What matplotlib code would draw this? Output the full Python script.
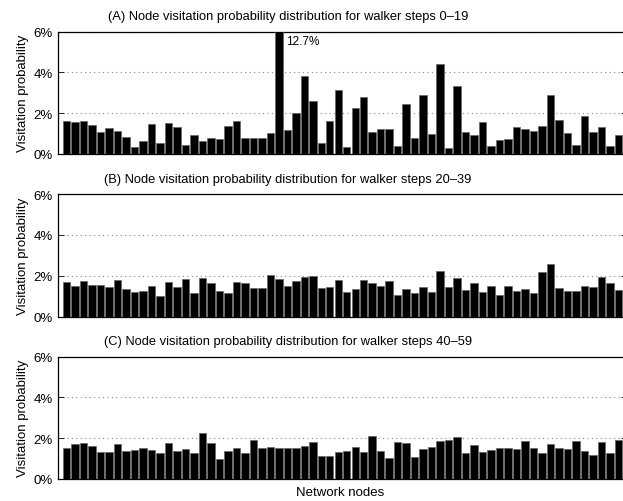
import matplotlib
matplotlib.use("Agg")
import matplotlib.pyplot as plt
import numpy as np
from matplotlib.ticker import FuncFormatter

plt.rcParams['font.family'] = ['Liberation Sans', 'DejaVu Sans']

titles = [
    "(A) Node visitation probability distribution for walker steps 0\u201319",
    "(B) Node visitation probability distribution for walker steps 20\u201339",
    "(C) Node visitation probability distribution for walker steps 40\u201359",
]

# visitation probability in percent, nodes 1..66
steps_0_19 = [1.64, 1.57, 1.62, 1.41, 1.07, 1.26, 1.13, 0.84, 0.34, 0.62,
              1.48, 0.52, 1.51, 1.31, 0.44, 0.93, 0.62, 0.77, 0.74, 1.39,
              1.64, 0.77, 0.77, 0.77, 1.03, 12.7, 1.18, 2.00, 3.82, 2.61,
              0.56, 1.62, 3.13, 0.33, 2.25, 2.79, 1.10, 1.21, 1.21, 0.41,
              2.44, 0.79, 2.89, 1.00, 4.43, 0.30, 3.34, 1.08, 0.92, 1.57,
              0.38, 0.69, 0.74, 1.33, 1.21, 1.13, 1.39, 2.89, 1.66, 1.03,
              0.46, 1.87, 1.08, 1.34, 0.39, 0.92]
steps_20_39 = [1.67, 1.50, 1.74, 1.54, 1.56, 1.46, 1.79, 1.35, 1.20, 1.25,
               1.51, 1.01, 1.71, 1.45, 1.84, 1.15, 1.89, 1.64, 1.25, 1.15,
               1.67, 1.63, 1.38, 1.38, 2.02, 1.84, 1.50, 1.74, 1.93, 1.98,
               1.40, 1.46, 1.80, 1.20, 1.37, 1.77, 1.63, 1.50, 1.74, 1.06,
               1.37, 1.17, 1.45, 1.20, 2.21, 1.46, 1.89, 1.30, 1.63, 1.20,
               1.50, 1.06, 1.50, 1.25, 1.35, 1.17, 2.18, 2.57, 1.40, 1.27,
               1.27, 1.51, 1.45, 1.95, 1.63, 1.30]
steps_40_59 = [1.54, 1.71, 1.76, 1.64, 1.33, 1.30, 1.69, 1.35, 1.41, 1.53,
               1.43, 1.25, 1.76, 1.35, 1.48, 1.27, 2.24, 1.76, 0.96, 1.38,
               1.53, 1.25, 1.93, 1.53, 1.58, 1.54, 1.50, 1.50, 1.63, 1.79,
               1.14, 1.14, 1.33, 1.38, 1.59, 1.32, 2.13, 1.35, 1.01, 1.79,
               1.76, 1.09, 1.45, 1.58, 1.87, 1.92, 2.08, 1.25, 1.67, 1.32,
               1.43, 1.51, 1.50, 1.45, 1.85, 1.50, 1.27, 1.71, 1.53, 1.45,
               1.84, 1.35, 1.17, 1.80, 1.27, 1.90]
series = [steps_0_19, steps_20_39, steps_40_59]
yticks = [0, 2, 4, 6]

W, H = 623, 502
fig = plt.figure(figsize=(W / 100, H / 100), dpi=100)

tops = [32.5, 195.0, 357.5]
ax_h = 122.5
left = 58
ax_w = 569

for i, (vals, title) in enumerate(zip(series, titles)):
    ax = fig.add_axes([left / W, 1 - (tops[i] + ax_h) / H, ax_w / W, ax_h / H])
    x = np.arange(1, len(vals) + 1)
    ax.bar(x, vals, width=0.88, color='black', edgecolor='#666666', linewidth=0.5, zorder=3)
    ax.set_xlim(0, len(vals) + 1)
    ax.set_ylim(0, 6)
    ax.set_yticks(yticks)
    ax.yaxis.set_major_formatter(FuncFormatter(lambda v, p: f"{v:.0f}%"))
    ax.set_xticks([])
    ax.tick_params(axis='y', direction='in', length=4, width=0.6, labelsize=9.5,
                   right=True, pad=4)
    ax.grid(axis='y', linestyle=(0, (1, 3)), color='#888888', linewidth=0.8, zorder=0)
    for s in ax.spines.values():
        s.set_linewidth(0.9)
    ax.set_ylabel("Visitation probability", fontsize=9.5, labelpad=3)
    ax.set_title(title, fontsize=9.3, x=(288 - left) / ax_w, pad=9)
    if i == 0:
        idx = int(np.argmax(vals))
        ax.text(x[idx] + 0.8, 5.55, f"{vals[idx]:.1f}%", fontsize=8.5, ha='left', va='center')
    if i == 2:
        ax.set_xlabel("Network nodes", fontsize=9.5, labelpad=4)
        ax.xaxis.set_label_coords((340 - left) / ax_w, -0.06)

fig.savefig("out.png", dpi=100)
